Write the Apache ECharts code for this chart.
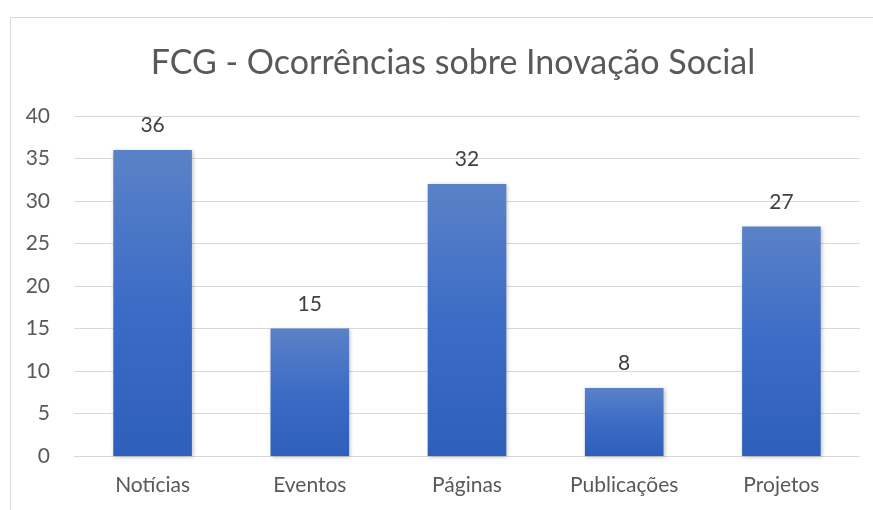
<!DOCTYPE html>
<html><head><meta charset="utf-8">
<script src="https://cdn.jsdelivr.net/npm/echarts@6/dist/echarts.min.js"></script>
<style>html,body{margin:0;padding:0;background:#fff}#c{width:873px;height:510px}</style>
</head><body><div id="c"></div>
<script>
const titleText = 'FCG - Ocorrências sobre Inovação Social';
const categories = ['Notícias', 'Eventos', 'Páginas', 'Publicações', 'Projetos'];
const values = [36, 15, 32, 8, 27];
const yTicks = { min: 0, max: 40, interval: 5 };

const font = 'Lato, "Open Sans", sans-serif';
const chart = echarts.init(document.getElementById('c'), null, { renderer: 'canvas' });
chart.setOption({
  backgroundColor: '#fff',
  animation: false,
  graphic: [{
    type: 'rect', shape: { x: 10.5, y: 17.5, width: 900, height: 600 },
    style: { fill: 'none', stroke: '#d9d9d9', lineWidth: 1 }, silent: true, z: -1
  }],
  title: {
    text: titleText, left: 448, top: 41, textAlign: 'center',
    textStyle: { fontFamily: font, fontSize: 34, fontWeight: 'normal', color: '#595959' }
  },
  grid: { left: 74, right: 13, top: 116, bottom: 54, containLabel: false },
  xAxis: {
    type: 'category', data: categories,
    axisLine: { lineStyle: { color: '#d9d9d9' } },
    axisTick: { show: false },
    axisLabel: { fontFamily: font, fontSize: 21, color: '#595959', margin: 19 }
  },
  yAxis: {
    type: 'value', min: yTicks.min, max: yTicks.max, interval: yTicks.interval,
    axisLine: { show: false }, axisTick: { show: false },
    splitLine: { lineStyle: { color: '#d9d9d9', width: 1 } },
    axisLabel: { fontFamily: font, fontSize: 21, color: '#595959', margin: 24 }
  },
  series: [{
    type: 'bar', data: values, barWidth: '50%',
    itemStyle: {
      color: new echarts.graphic.LinearGradient(0, 0, 0, 1, [
        { offset: 0, color: '#5b82c8' }, { offset: 0.5, color: '#3c6cc6' }, { offset: 1, color: '#2e5fba' }
      ]),
      shadowColor: 'rgba(0,0,0,0.25)', shadowBlur: 4, shadowOffsetX: 1, shadowOffsetY: 1
    },
    label: { show: true, position: 'top', distance: 14, fontFamily: font, fontSize: 21, color: '#404040' }
  }]
});
</script></body></html>
